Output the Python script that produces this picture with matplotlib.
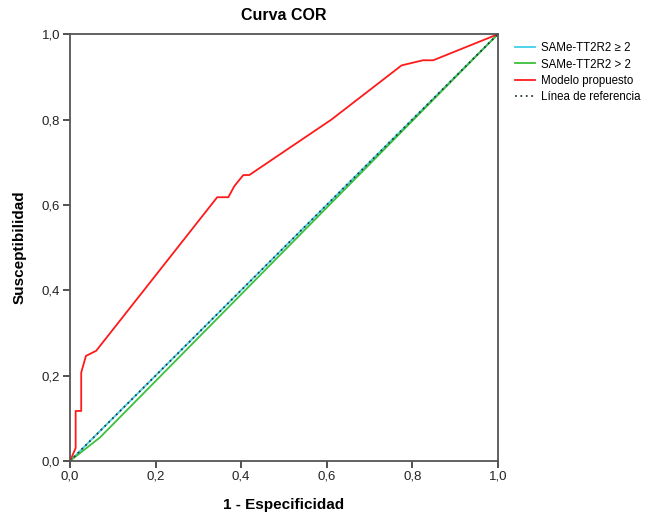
import numpy as np
import matplotlib
matplotlib.use('Agg')
import matplotlib.pyplot as plt
from matplotlib.ticker import FuncFormatter

plt.rcParams['font.family'] = ['Liberation Sans', 'DejaVu Sans']

# Curvas COR (1 - especificidad, susceptibilidad)
fpr_mayor_igual = [0.0, 1.0]
tpr_mayor_igual = [0.0, 1.0]

fpr_mayor = [0.0, 0.070, 1.0]
tpr_mayor = [0.0, 0.055, 1.0]

fpr_modelo = [0.0, 0.013, 0.013, 0.026, 0.026, 0.037, 0.061, 0.344, 0.370,
              0.384, 0.405, 0.419, 0.611, 0.775, 0.825, 0.849, 1.0]
tpr_modelo = [0.0, 0.030, 0.117, 0.117, 0.207, 0.246, 0.258, 0.618, 0.618,
              0.644, 0.670, 0.670, 0.800, 0.927, 0.939, 0.939, 1.0]

referencia = [0.0, 1.0]

etiquetas = ['SAMe-TT2R2 ≥ 2', 'SAMe-TT2R2 > 2', 'Modelo propuesto',
             'Línea de referencia']

fig = plt.figure(figsize=(6.55, 5.19), dpi=100)
ax = fig.add_axes([0.107, 0.112, 0.653, 0.822])

ax.plot(fpr_mayor_igual, tpr_mayor_igual, color='#3fcfe8', lw=1.3, label=etiquetas[0])
ax.plot(fpr_mayor, tpr_mayor, color='#3cc03c', lw=1.3, label=etiquetas[1])
ax.plot(fpr_modelo, tpr_modelo, color='#ff1a1a', lw=1.3, label=etiquetas[2])
ax.plot(referencia, referencia, color='#2a3a3a', lw=1.3, ls=(0, (1, 2)), label=etiquetas[3])

ax.set_xlim(0, 1)
ax.set_ylim(0, 1)
ticks = np.arange(0, 1.01, 0.2)
ax.set_xticks(ticks)
ax.set_yticks(ticks)
coma = FuncFormatter(lambda v, p: ('%.1f' % v).replace('.', ','))
ax.xaxis.set_major_formatter(coma)
ax.yaxis.set_major_formatter(coma)
ax.tick_params(direction='out', length=5, width=1.2, color='#333333',
               labelsize=9.5, labelcolor='#222222', pad=2)

for s in ax.spines.values():
    s.set_color('#555555')
    s.set_linewidth(1.3)

ax.set_title('Curva COR', fontsize=11.5, fontweight='bold', pad=10)
ax.set_xlabel('1 - Especificidad', fontsize=11, fontweight='bold', labelpad=11)
ax.set_ylabel('Susceptibilidad', fontsize=11, fontweight='bold', labelpad=11)

ax.legend(loc='upper left', bbox_to_anchor=(1.015, 1.005), frameon=False,
          fontsize=8.3, handlelength=1.8, handletextpad=0.45, labelspacing=0.35)

fig.savefig('out.png', dpi=100)
